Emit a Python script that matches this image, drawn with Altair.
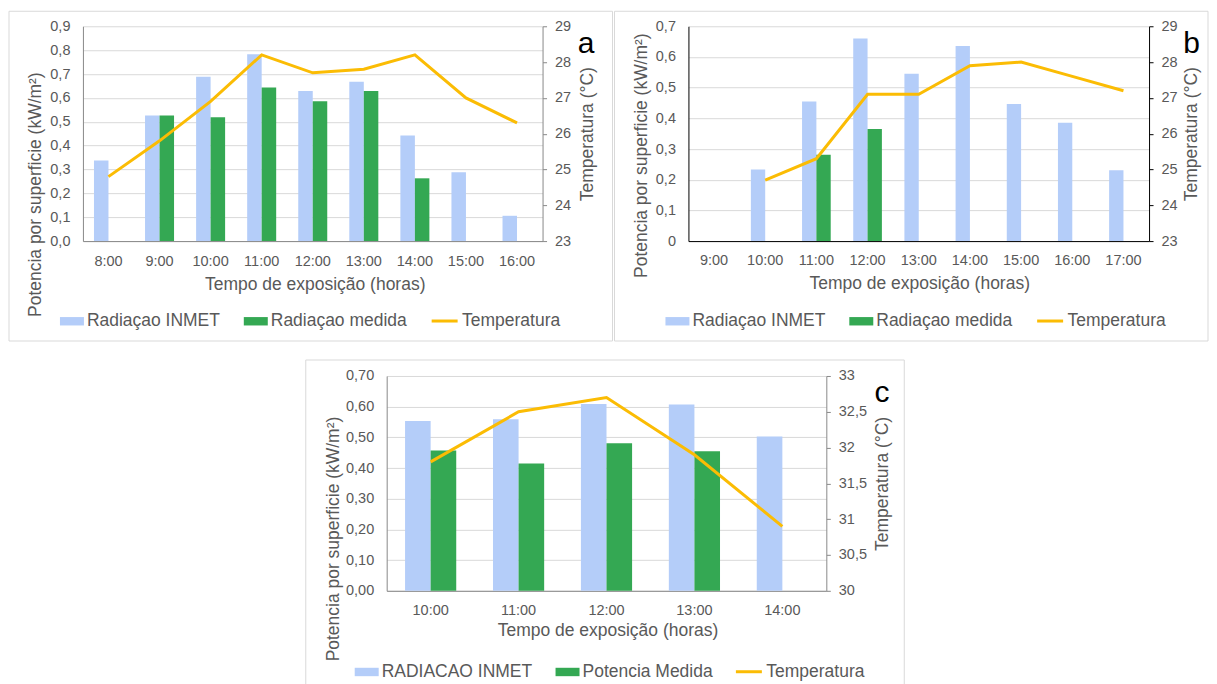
import altair as alt
import pandas as pd

# ---------------- data ----------------
a_hours = ["8:00", "9:00", "10:00", "11:00", "12:00", "13:00", "14:00", "15:00", "16:00"]
a_inmet = [0.338, 0.526, 0.688, 0.783, 0.629, 0.668, 0.442, 0.288, 0.106]
a_medida = [None, 0.526, 0.519, 0.643, 0.586, 0.629, 0.263, None, None]
a_temp = [24.8, 25.8, 26.9, 28.2, 27.7, 27.8, 28.2, 27.0, 26.3]
a_series = ["Radiaçao INMET", "Radiaçao medida", "Temperatura"]
a_yticks = [0.0, 0.1, 0.2, 0.3, 0.4, 0.5, 0.6, 0.7, 0.8, 0.9]
a_tticks = [23, 24, 25, 26, 27, 28, 29]

b_hours = ["9:00", "10:00", "11:00", "12:00", "13:00", "14:00", "15:00", "16:00", "17:00"]
b_inmet = [None, 0.233, 0.455, 0.660, 0.545, 0.636, 0.447, 0.386, 0.231]
b_medida = [None, None, 0.281, 0.365, None, None, None, None, None]
b_temp = [None, 24.7, 25.3, 27.1, 27.1, 27.9, 28.0, 27.6, 27.2]
b_series = ["Radiaçao INMET", "Radiaçao medida", "Temperatura"]
b_yticks = [0.0, 0.1, 0.2, 0.3, 0.4, 0.5, 0.6, 0.7]
b_tticks = [23, 24, 25, 26, 27, 28, 29]

c_hours = ["10:00", "11:00", "12:00", "13:00", "14:00"]
c_inmet = [0.553, 0.559, 0.609, 0.607, 0.503]
c_medida = [0.457, 0.415, 0.481, 0.455, None]
c_temp = [31.8, 32.5, 32.7, 31.9, 30.9]
c_series = ["RADIACAO INMET", "Potencia Medida", "Temperatura"]
c_yticks = [0.0, 0.1, 0.2, 0.3, 0.4, 0.5, 0.6, 0.7]
c_tticks = [30, 30.5, 31, 31.5, 32, 32.5, 33]

x_title = "Tempo de exposição (horas)"
y_title = "Potencia por superficie (kW/m²)"
t_title = "Temperatura (°C)"

# ---------------- style ----------------
FONT = "Liberation Sans"
TXT = "#595959"
GRID = "#D9D9D9"
BLUE = "#B4CDF9"
GREEN = "#34A853"
ORANGE = "#FBBC04"
TICK_FS = 14.5
TITLE_FS = 17.5
LEG_FS = 17.5


def panel(hours, inmet, medida, temp, series, yticks, ylab, tticks, tlab,
          axis_color, letter, g):
    rows = []
    for h, v in zip(hours, inmet):
        if v is not None:
            rows.append({"hora": h, "serie": series[0], "valor": v})
    for h, v in zip(hours, medida):
        if v is not None:
            rows.append({"hora": h, "serie": series[1], "valor": v})
    bars_df = pd.DataFrame(rows)
    line_df = pd.DataFrame([
        {"hora": h, "ordem": i, "serie_t": series[2], "temp": t}
        for i, (h, t) in enumerate(zip(hours, temp)) if t is not None
    ])
    w, h = g["w"], g["h"]
    xscale = alt.Scale(domain=hours, paddingInner=g["pi"], paddingOuter=g["pi"] / 2)

    xaxis = alt.Axis(
        title=x_title, labelAngle=0, labelFontSize=TICK_FS, labelColor=TXT,
        labelBaseline="alphabetic", labelPadding=g["xlp"], ticks=False, tickSize=0,
        domainColor=axis_color, grid=False,
        titleFontSize=TITLE_FS, titleColor=TXT, titleFontWeight="normal",
        titleX=g["xtx"], titleY=g["xty"], titleBaseline="alphabetic", titleAlign="center",
    )
    yaxis = alt.Axis(
        title=y_title, values=yticks, labelExpr=ylab, labelFontSize=TICK_FS,
        labelColor=TXT, labelPadding=13, ticks=False, tickSize=0,
        domainColor=axis_color, grid=True, gridColor=GRID,
        titleFontSize=TITLE_FS, titleColor=TXT, titleFontWeight="normal",
        titleAngle=-90, titleX=g["ltx"], titleY=g["lty"], titleAlign="center",
        titleBaseline="middle",
    )
    taxis = alt.Axis(
        title=t_title, orient="right", values=tticks, labelExpr=tlab,
        labelFontSize=TICK_FS, labelColor=TXT, labelPadding=8, ticks=True,
        tickSize=4, tickColor=axis_color, domainColor=axis_color, grid=False,
        titleFontSize=TITLE_FS, titleColor=TXT, titleFontWeight="normal",
        titleAngle=-90, titleX=g["rtx"], titleY=h / 2, titleAlign="center",
        titleBaseline="middle",
    )
    fill_leg = alt.Legend(
        title=None, orient="none", legendX=g["flx"], legendY=g["fly"],
        direction="horizontal", symbolType="M-1,-0.35H1V0.35H-1Z", symbolSize=576,
        symbolStrokeWidth=0, symbolOpacity=1, labelFontSize=LEG_FS, labelColor=TXT,
        labelOffset=3, columnPadding=23, padding=0, labelLimit=400,
    )
    stroke_leg = alt.Legend(
        title=None, orient="none", legendX=g["slx"], legendY=g["sly"],
        direction="horizontal", symbolType="stroke", symbolSize=676,
        symbolStrokeWidth=3, labelFontSize=LEG_FS, labelColor=TXT,
        labelOffset=3, padding=0, labelLimit=400,
    )

    bars = alt.Chart(bars_df).mark_bar().encode(
        x=alt.X("hora:N", sort=hours, scale=xscale, axis=xaxis),
        xOffset=alt.XOffset("serie:N", sort=series[:2],
                            scale=alt.Scale(domain=series[:2])),
        y=alt.Y("valor:Q", scale=alt.Scale(domain=[yticks[0], yticks[-1]], nice=False),
                axis=yaxis),
        fill=alt.Fill("serie:N", sort=series[:2],
                      scale=alt.Scale(domain=series[:2], range=[BLUE, GREEN]),
                      legend=fill_leg),
    )
    line = alt.Chart(line_df).mark_line(strokeWidth=3).encode(
        x=alt.X("hora:N", sort=hours, scale=xscale),
        y=alt.Y("temp:Q", scale=alt.Scale(domain=[tticks[0], tticks[-1]], nice=False,
                                          zero=False), axis=taxis),
        order=alt.Order("ordem:Q"),
        stroke=alt.Stroke("serie_t:N", scale=alt.Scale(domain=[series[2]], range=[ORANGE]),
                          legend=stroke_leg),
    )
    border = alt.Chart(alt.Data(values=[{"k": 1}])).mark_rect(
        fill="transparent", stroke=GRID, strokeWidth=1
    ).encode(
        x=alt.value(g["bx1"]), x2=alt.value(g["bx2"]),
        y=alt.value(g["by1"]), y2=alt.value(g["by2"]),
    )
    # invisible edge used only to balance the panel's extent when centred
    edge = alt.Chart(alt.Data(values=[{"k": 1}])).mark_rule(
        strokeOpacity=0, strokeWidth=1
    ).encode(x=alt.value(g["ex"]), y=alt.value(0), y2=alt.value(1))
    lab = alt.Chart(alt.Data(values=[{"t": letter}])).mark_text(
        fontSize=30, color="black", align="center", baseline="alphabetic"
    ).encode(text="t:N", x=alt.value(g["lx"]), y=alt.value(g["ly"]))

    return alt.layer(border, edge, bars, line, lab).resolve_scale(
        y="independent").properties(width=w, height=h)


ga = dict(w=460, h=215, pi=0.432, xlp=24, xtx=232, xty=48, ltx=-47, lty=168, rtx=44.5,
          flx=-23, fly=283, slx=347.5, sly=280.5, bx1=-74, bx2=530, by1=-15, by2=315,
          ex=-74, lx=503.5, ly=27)
gb = dict(w=461, h=215, pi=0.44, xlp=23.5, xtx=231, xty=47, ltx=-46.5, lty=129, rtx=42.5,
          flx=-23, fly=283, slx=347.5, sly=280.5, bx1=-74, bx2=520, by1=-15, by2=315,
          ex=-74, lx=503.6, ly=26.7)
gc = dict(w=440, h=215, pi=0.418, xlp=23.5, xtx=221, xty=45, ltx=-53.3, lty=162.7, rtx=56.6,
          flx=-32, fly=284, slx=348, sly=281.5, bx1=-81, bx2=518, by1=-16, by2=312,
          ex=-85, lx=495.6, ly=26)

pa = panel(a_hours, a_inmet, a_medida, a_temp, a_series, a_yticks,
           "replace(format(datum.value, '.1f'), '.', ',')", a_tticks,
           "replace(toString(datum.value), '.', ',')", "#898989", "a", ga)
pb = panel(b_hours, b_inmet, b_medida, b_temp, b_series, b_yticks,
           "datum.value == 0 ? '0' : replace(format(datum.value, '.1f'), '.', ',')",
           b_tticks, "replace(toString(datum.value), '.', ',')", "#000000", "b", gb)
pc = panel(c_hours, c_inmet, c_medida, c_temp, c_series, c_yticks,
           "replace(format(datum.value, '.2f'), '.', ',')", c_tticks,
           "replace(toString(datum.value), '.', ',')", "#898989", "c", gc)

res = dict(fill="independent", stroke="independent", xOffset="independent",
           x="independent", y="independent")

top = alt.hconcat(pa, pb, spacing=0).resolve_scale(**res).resolve_legend(
    fill="independent", stroke="independent")
chart = alt.vconcat(top, pc, spacing=17, center=True).resolve_scale(**res).resolve_legend(
    fill="independent", stroke="independent"
).properties(
    padding={"left": 0, "top": 2, "right": 0, "bottom": 0}
).configure(font=FONT).configure_view(stroke="transparent")

chart.save("out.html", embed_options={"renderer": "svg", "actions": False})
